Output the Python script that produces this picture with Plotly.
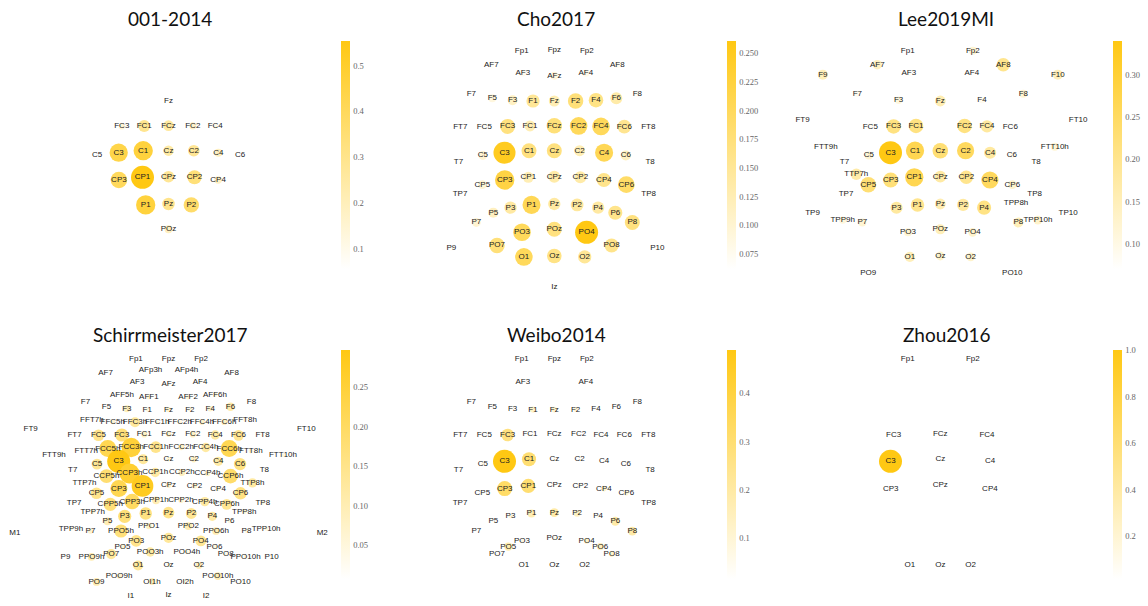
import re
import numpy as np
import plotly.graph_objects as go

W, H = 1148, 606

# Electrode positions on the flattened head (x to the right, y towards the nose, Cz at origin)
MID_POS = {
    "Fpz": (0, 100.7), "AFz": (0, 75), "Fz": (0, 49.7), "FCz": (0, 25), "Cz": (0, 0),
    "CPz": (0, -26), "Pz": (0, -53.3), "POz": (0, -78.6), "Oz": (0, -105.3), "Iz": (0, -136),
}
LEFT_POS = {
    "Fp1": (-32.6, 100), "AFp3h": (-18, 89.7), "AF7": (-63, 86), "AF3": (-31.5, 77.5),
    "AFF5h": (-46.5, 64.6), "AFF1": (-19.6, 62), "F9": (-117.5, 76),
    "F7": (-83, 57), "F5": (-62, 52.5), "F3": (-41.7, 50.5), "F1": (-21.3, 49.7),
    "FFT7h": (-76.6, 39.5), "FFC5h": (-55.7, 37.3), "FFC3h": (-33.5, 37), "FFC1h": (-11.3, 37.2),
    "FT9": (-137.8, 30.3), "FT7": (-94, 24), "FC5": (-70, 24), "FC3": (-46.7, 24.3), "FC1": (-24.3, 24.8),
    "FTT9h": (-114.5, 4), "FTT7h": (-82.3, 8.2), "FCC5h": (-60.7, 10.7), "FCC3h": (-37.3, 11.8),
    "FCC1h": (-12.7, 12.2),
    "M1": (-153.7, -74), "T7": (-95.8, -11), "C5": (-71.5, -4.8), "C3": (-49.8, -2), "C1": (-25.3, 0),
    "TTP7h": (-84, -23.6), "CCP5h": (-62, -16.8), "CCP3h": (-39, -14.2), "CCP1h": (-13.3, -13.2),
    "TP9": (-127.8, -62.8), "TP7": (-94.3, -43.5), "CP5": (-72, -34), "CP3": (-49.6, -29.3),
    "CP1": (-26, -26.6),
    "TPP9h": (-97.6, -69.4), "TPP7h": (-75.8, -52.3), "CPP5h": (-58.2, -45), "CPP3h": (-36.3, -42.3),
    "CPP1h": (-12.5, -41),
    "P9": (-103, -97.3), "P7": (-78, -71.8), "P5": (-61, -62), "P3": (-43.8, -57), "P1": (-22.8, -54.2),
    "PPO9h": (-77, -97.5), "PPO5h": (-47.5, -71.7), "PPO1": (-19.8, -66.8),
    "PO9": (-72, -122.6), "PO7": (-57.3, -94.8), "PO5": (-46, -87.3), "PO3": (-32.3, -81.6),
    "POO9h": (-49.4, -116.8), "POO3h": (-18.3, -92.7),
    "O1": (-30.4, -106.2), "OI1h": (-16.5, -122.3), "I1": (-37.7, -136.3),
}


def mirror_name(name):
    # left-hemisphere odd index -> right-hemisphere even index (C3 -> C4, FTT9h -> FTT10h)
    return re.sub(r"(\d+)(h?)$", lambda m: str(int(m.group(1)) + 1) + m.group(2), name)


POS = dict(MID_POS)
for ch, (x, y) in LEFT_POS.items():
    POS[ch] = (x, y)
    POS[mirror_name(ch)] = (-x, y)

# ---- per-dataset channel scores ----
ch_001 = ["Fz", "FC3", "FC1", "FCz", "FC2", "FC4", "C5", "C3", "C1", "Cz", "C2", "C4", "C6",
          "CP3", "CP1", "CPz", "CP2", "CP4", "P1", "Pz", "P2", "POz"]
val_001 = [0.08, 0.15, 0.29, 0.26, 0.17, 0.11, 0.057, 0.44, 0.465, 0.25, 0.28, 0.19, 0.065,
           0.40, 0.554, 0.28, 0.34, 0.18, 0.465, 0.30, 0.37, 0.19]

ch_cho = ["Fp1", "Fpz", "Fp2", "AF7", "AF3", "AFz", "AF4", "AF8",
          "F7", "F5", "F3", "F1", "Fz", "F2", "F4", "F6", "F8",
          "FT7", "FC5", "FC3", "FC1", "FCz", "FC2", "FC4", "FC6", "FT8",
          "T7", "C5", "C3", "C1", "Cz", "C2", "C4", "C6", "T8",
          "TP7", "CP5", "CP3", "CP1", "CPz", "CP2", "CP4", "CP6", "TP8",
          "P9", "P7", "P5", "P3", "P1", "Pz", "P2", "P4", "P6", "P8", "P10",
          "PO7", "PO3", "POz", "PO4", "PO8", "O1", "Oz", "O2", "Iz"]
val_cho = [0.065, 0.07, 0.07, 0.07, 0.075, 0.09, 0.08, 0.075,
           0.062, 0.09, 0.113, 0.15, 0.125, 0.175, 0.165, 0.135, 0.07,
           0.065, 0.07, 0.17, 0.125, 0.175, 0.20, 0.20, 0.155, 0.07,
           0.065, 0.10, 0.25, 0.17, 0.17, 0.125, 0.205, 0.115, 0.07,
           0.065, 0.10, 0.22, 0.125, 0.135, 0.135, 0.16, 0.19, 0.07,
           0.065, 0.10, 0.115, 0.14, 0.205, 0.14, 0.145, 0.14, 0.16, 0.17, 0.065,
           0.175, 0.20, 0.17, 0.261, 0.16, 0.20, 0.165, 0.15, 0.07]

ch_lee = ["Fp1", "Fp2", "AF7", "AF3", "AF4", "AF8", "F9", "F7", "F3", "Fz", "F4", "F8", "F10",
          "FT9", "FC5", "FC3", "FC1", "FC2", "FC4", "FC6", "FT10",
          "FTT9h", "T7", "C5", "C3", "C1", "Cz", "C2", "C4", "C6", "T8", "FTT10h",
          "TTP7h", "TP7", "CP5", "CP3", "CP1", "CPz", "CP2", "CP4", "CP6", "TP8",
          "TP9", "TPP9h", "P7", "P3", "P1", "Pz", "P2", "P4", "TPP8h", "P8", "TPP10h", "TP10",
          "PO9", "PO3", "POz", "PO4", "PO10", "O1", "Oz", "O2"]
val_lee = [0.07, 0.12, 0.14, 0.08, 0.075, 0.20, 0.15, 0.09, 0.11, 0.16, 0.09, 0.12, 0.15,
           0.072, 0.08, 0.215, 0.215, 0.215, 0.18, 0.072, 0.075,
           0.09, 0.07, 0.12, 0.341, 0.27, 0.23, 0.255, 0.18, 0.09, 0.07, 0.12,
           0.17, 0.085, 0.23, 0.225, 0.27, 0.175, 0.20, 0.255, 0.13, 0.07,
           0.07, 0.11, 0.12, 0.18, 0.20, 0.16, 0.18, 0.21, 0.08, 0.15, 0.13, 0.07,
           0.07, 0.12, 0.15, 0.13, 0.075, 0.15, 0.13, 0.13]

ch_sch = ["Fp1", "Fpz", "Fp2", "AFp3h", "AFp4h", "AF7", "AF3", "AFz", "AF4", "AF8",
          "AFF5h", "AFF1", "AFF2", "AFF6h",
          "F7", "F5", "F3", "F1", "Fz", "F2", "F4", "F6", "F8",
          "FFT7h", "FFC5h", "FFC3h", "FFC1h", "FFC2h", "FFC4h", "FFC6h", "FFT8h",
          "FT9", "FT7", "FC5", "FC3", "FC1", "FCz", "FC2", "FC4", "FC6", "FT8", "FT10",
          "FTT9h", "FTT7h", "FCC5h", "FCC3h", "FCC1h", "FCC2h", "FCC4h", "FCC6h", "FTT8h", "FTT10h",
          "M1", "T7", "C5", "C3", "C1", "Cz", "C2", "C4", "C6", "T8", "M2",
          "TTP7h", "CCP5h", "CCP3h", "CCP1h", "CCP2h", "CCP4h", "CCP6h", "TTP8h",
          "TP7", "CP5", "CP3", "CP1", "CPz", "CP2", "CP4", "CP6", "TP8",
          "TPP7h", "CPP5h", "CPP3h", "CPP1h", "CPP2h", "CPP4h", "CPP6h", "TPP8h",
          "TPP9h", "TPP10h",
          "P7", "P5", "P3", "P1", "Pz", "P2", "P4", "P6", "P8",
          "PPO5h", "PPO1", "PPO2", "PPO6h",
          "P9", "PPO9h", "PO7", "PO5", "PO3", "POz", "PO4", "PO6", "PO8", "PPO10h", "P10",
          "POO3h", "POO4h", "O1", "Oz", "O2", "POO9h", "POO10h", "PO9", "PO10",
          "OI1h", "OI2h", "I1", "Iz", "I2"]
val_sch = [0.02, 0.02, 0.02, 0.03, 0.03, 0.02, 0.03, 0.04, 0.04, 0.02,
           0.04, 0.06, 0.06, 0.06,
           0.02, 0.03, 0.09, 0.05, 0.07, 0.05, 0.07, 0.11, 0.03,
           0.04, 0.06, 0.13, 0.05, 0.05, 0.07, 0.08, 0.05,
           0.01, 0.03, 0.15, 0.17, 0.08, 0.07, 0.08, 0.12, 0.14, 0.04, 0.01,
           0.03, 0.05, 0.22, 0.25, 0.15, 0.08, 0.12, 0.22, 0.06, 0.05,
           0.007, 0.03, 0.14, 0.297, 0.13, 0.06, 0.08, 0.12, 0.16, 0.03, 0.01,
           0.05, 0.18, 0.26, 0.12, 0.09, 0.07, 0.19, 0.12,
           0.03, 0.15, 0.22, 0.28, 0.07, 0.07, 0.06, 0.16, 0.05,
           0.06, 0.17, 0.20, 0.10, 0.07, 0.12, 0.14, 0.06,
           0.05, 0.05,
           0.07, 0.10, 0.17, 0.16, 0.15, 0.14, 0.12, 0.05, 0.05,
           0.17, 0.08, 0.10, 0.10,
           0.03, 0.10, 0.13, 0.06, 0.15, 0.13, 0.14, 0.05, 0.04, 0.05, 0.03,
           0.12, 0.05, 0.13, 0.05, 0.09, 0.07, 0.10, 0.10, 0.04,
           0.09, 0.05, 0.04, 0.04, 0.04]

ch_wei = ["Fp1", "Fpz", "Fp2", "AF3", "AF4",
          "F7", "F5", "F3", "F1", "Fz", "F2", "F4", "F6", "F8",
          "FT7", "FC5", "FC3", "FC1", "FCz", "FC2", "FC4", "FC6", "FT8",
          "T7", "C5", "C3", "C1", "Cz", "C2", "C4", "C6", "T8",
          "TP7", "CP5", "CP3", "CP1", "CPz", "CP2", "CP4", "CP6", "TP8",
          "P7", "P5", "P3", "P1", "Pz", "P2", "P4", "P6", "P8",
          "PO7", "PO5", "PO3", "POz", "PO4", "PO6", "PO8", "O1", "Oz", "O2"]
val_wei = [0.03, 0.02, 0.03, 0.03, 0.02,
           0.02, 0.04, 0.05, 0.13, 0.12, 0.10, 0.05, 0.04, 0.03,
           0.02, 0.04, 0.27, 0.05, 0.04, 0.05, 0.04, 0.03, 0.02,
           0.015, 0.07, 0.49, 0.30, 0.06, 0.05, 0.05, 0.04, 0.02,
           0.02, 0.06, 0.32, 0.30, 0.06, 0.06, 0.12, 0.10, 0.03,
           0.04, 0.05, 0.09, 0.17, 0.19, 0.14, 0.06, 0.19, 0.19,
           0.05, 0.18, 0.08, 0.06, 0.12, 0.15, 0.12, 0.04, 0.05, 0.05]

ch_zhou = ["Fp1", "Fp2", "FC3", "FCz", "FC4", "C3", "Cz", "C4", "CP3", "CPz", "CP4", "O1", "Oz", "O2"]
val_zhou = [0.02, 0.03, 0.03, 0.08, 0.02, 1.0, 0.03, 0.02, 0.06, 0.03, 0.02, 0.02, 0.016, 0.02]

PANELS = [
    ("001-2014", ch_001, val_001, 0.1, ".1f"),
    ("Cho2017", ch_cho, val_cho, 0.025, ".3f"),
    ("Lee2019MI", ch_lee, val_lee, 0.05, ".2f"),
    ("Schirrmeister2017", ch_sch, val_sch, 0.05, ".2f"),
    ("Weibo2014", ch_wei, val_wei, 0.1, ".1f"),
    ("Zhou2016", ch_zhou, val_zhou, 0.2, ".1f"),
]

# pixel layout of the 2 x 3 grid
CZ_X = [168.5, 554.3, 940.3]
CZ_Y = [150.7, 459.3]
TITLE_X = [170, 556, 946]
TITLE_Y = [18, 334]
CBAR_X = [341, 727, 1113]
CBAR_Y = [(40.7, 269.0), (350.0, 579.0)]
HALF_W, TOP, BOTTOM = 165, 112, 140
MAX_SIZE = 23
GOLD_SCALE = [[0.0, "#FFFFFF"], [1.0, "#FFC813"]]

fig = go.Figure()
layout = {}
annotations = []

for i, (title, chans, vals, dtick, fmt) in enumerate(PANELS):
    r, c = divmod(i, 3)
    n = "" if i == 0 else str(i + 1)
    cx, cy = CZ_X[c], CZ_Y[r]
    layout["xaxis" + n] = dict(domain=[(cx - HALF_W) / W, (cx + HALF_W) / W],
                               range=[-HALF_W, HALF_W], visible=False, fixedrange=True)
    layout["yaxis" + n] = dict(domain=[1 - (cy + BOTTOM) / H, 1 - (cy - TOP) / H],
                               range=[-BOTTOM, TOP], visible=False, fixedrange=True)
    v = np.asarray(vals, dtype=float)
    xs = [POS[ch][0] for ch in chans]
    ys = [POS[ch][1] for ch in chans]
    top_px, bot_px = CBAR_Y[r]
    fig.add_trace(go.Scatter(
        x=xs, y=ys, mode="markers+text", text=chans, textposition="middle center",
        textfont=dict(family="Liberation Sans, Arial", size=8, color="#222222"),
        marker=dict(size=v / v.max() * MAX_SIZE, sizemode="diameter", color=v,
                    colorscale=GOLD_SCALE, line=dict(width=0), opacity=1,
                    colorbar=dict(x=CBAR_X[c] / W, xanchor="left", xpad=0,
                                  y=1 - (top_px + bot_px) / 2 / H, yanchor="middle",
                                  len=(bot_px - top_px) / H, lenmode="fraction", ypad=0,
                                  thickness=9, outlinewidth=0,
                                  ticks="outside", ticklen=2, tickcolor="rgba(0,0,0,0)",
                                  tick0=0, dtick=dtick, tickformat=fmt,
                                  tickfont=dict(family="Liberation Serif, Times New Roman",
                                                size=8.5, color="#666666"))),
        cliponaxis=False, showlegend=False, hoverinfo="text",
        xaxis="x" + n, yaxis="y" + n,
    ))
    annotations.append(dict(text=title, x=TITLE_X[c] / W, y=1 - TITLE_Y[r] / H,
                            xref="paper", yref="paper", xanchor="center", yanchor="middle",
                            showarrow=False, font=dict(family="Lato", size=19, color="#111111")))

fig.update_layout(width=W, height=H, margin=dict(l=0, r=0, t=0, b=0),
                  paper_bgcolor="white", plot_bgcolor="white",
                  annotations=annotations, **layout)
fig.write_html("out.html")
